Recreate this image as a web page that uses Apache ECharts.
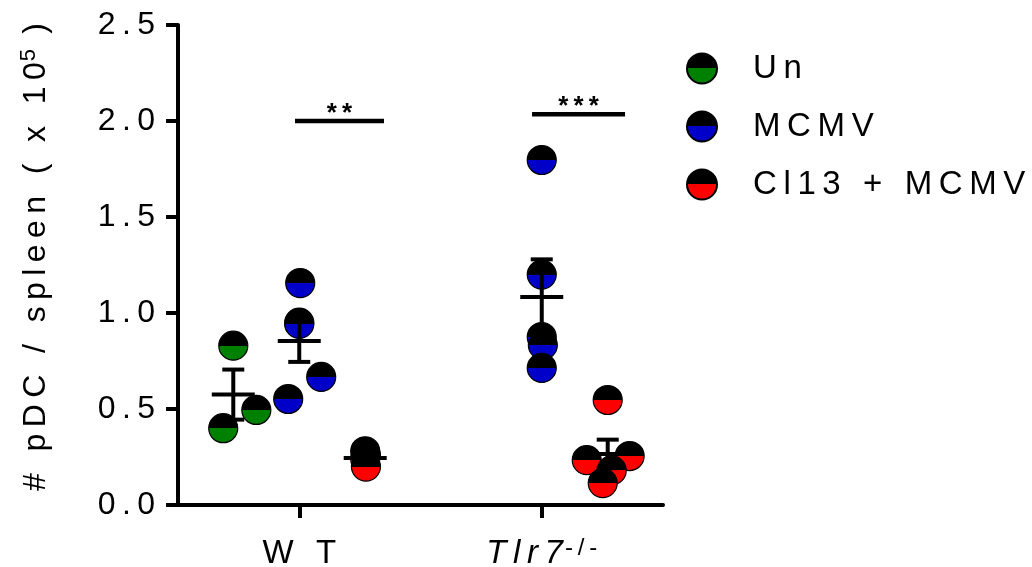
<!DOCTYPE html>
<html>
<head>
<meta charset="utf-8">
<script src="https://cdn.jsdelivr.net/npm/echarts@6/dist/echarts.min.js"></script>
<style>
html,body{margin:0;padding:0;background:#fff;}
#chart{width:1032px;height:567px;}
</style>
</head>
<body>
<div id="chart"></div>
<script>
// ---- data ----
const categories = ['WT', 'Tlr7'];
const groupNames = ['Un', 'MCMV', 'Cl13 + MCMV'];
const groupColors = ['#008000', '#0000c8', '#ff0000'];

// values (x 10^5 pDC per spleen)
const wtUn    = [0.83, 0.495, 0.40];
const wtMcmv  = [1.156, 0.95, 0.943, 0.667, 0.552];
const wtCl13  = [0.28, 0.26, 0.24, 0.20];
const koMcmv  = [1.797, 1.20, 0.875, 0.833, 0.714];
const koCl13  = [0.547, 0.234, 0.255, 0.18, 0.114];

// horizontal jitter of each point inside its column (x-axis units)
const wtUnJitter   = [0.0, 0.19, -0.083];
const wtMcmvJitter = [0.008, 0.0, 0.0, 0.181, -0.091];
const wtCl13Jitter = [0.0, 0.006, 0.0, 0.006];
const koMcmvJitter = [0.0, 0.0, 0.0, 0.009, 0.0];
const koCl13Jitter = [0.0, -0.173, 0.181, 0.033, -0.041];

// significance brackets
const sigStart  = [0.965, 2.92];
const sigEnd    = [1.699, 3.687];
const sigLevel  = [2.0, 2.035];
const sigLabels = ['**', '***'];

const yTicks = [0, 0.5, 1.0, 1.5, 2.0, 2.5];

// ---- helpers ----
const FONT = '"Liberation Sans", Arial, Helvetica, sans-serif';
const TS = '\u2009';
function spaced(s) { return s.split('').join(TS); }

const catCenter = [1, 3];          // category centres on the hidden value x axis (0..4)
const groupOffset = [-0.544, 0, 0.544];

const columns = [
  {cat: 0, grp: 0, vals: wtUn,   jit: wtUnJitter},
  {cat: 0, grp: 1, vals: wtMcmv, jit: wtMcmvJitter},
  {cat: 0, grp: 2, vals: wtCl13, jit: wtCl13Jitter},
  {cat: 1, grp: 1, vals: koMcmv, jit: koMcmvJitter},
  {cat: 1, grp: 2, vals: koCl13, jit: koCl13Jitter}
];

function colX(c) { return catCenter[c.cat] + groupOffset[c.grp]; }
function mean(a) { return a.reduce((s, v) => s + v, 0) / a.length; }
function sem(a) {
  const m = mean(a);
  const v = a.reduce((s, x) => s + (x - m) * (x - m), 0) / (a.length - 1);
  return Math.sqrt(v / a.length);
}

function halfFill(color) {
  return {
    type: 'linear', x: 0, y: 0, x2: 0, y2: 1,
    colorStops: [
      {offset: 0, color: '#000'}, {offset: 0.5, color: '#000'},
      {offset: 0.5, color: color}, {offset: 1, color: color}
    ]
  };
}

const scatterSeries = groupNames.map((name, g) => {
  const pts = [];
  columns.filter(c => c.grp === g).forEach(c => {
    c.vals.forEach((v, i) => pts.push([colX(c) + c.jit[i], v]));
  });
  return {
    name: name,
    type: 'scatter',
    xAxisIndex: 1,
    yAxisIndex: 0,
    symbol: 'circle',
    symbolSize: 29,
    itemStyle: {color: halfFill(groupColors[g]), borderColor: '#000', borderWidth: 1.2, opacity: 1},
    emphasis: {disabled: true},
    data: pts,
    z: 2
  };
});

const errData = columns.map(c => [colX(c), mean(c.vals), sem(c.vals)]);

const errSeries = {
  type: 'custom',
  xAxisIndex: 1, yAxisIndex: 0,
  z: 5, silent: true,
  encode: {x: 0, y: 1},
  data: errData,
  renderItem: function (params, api) {
    const x = api.value(0), m = api.value(1), s = api.value(2);
    const c = api.coord([x, m]);
    const t = api.coord([x, m + s]);
    const b = api.coord([x, m - s]);
    const st = {stroke: '#000', lineWidth: 4};
    return {
      type: 'group',
      children: [
        {type: 'line', shape: {x1: c[0], y1: t[1], x2: c[0], y2: b[1]}, style: st},
        {type: 'line', shape: {x1: c[0] - 11, y1: t[1], x2: c[0] + 11, y2: t[1]}, style: st},
        {type: 'line', shape: {x1: c[0] - 11, y1: b[1], x2: c[0] + 11, y2: b[1]}, style: st},
        {type: 'line', shape: {x1: c[0] - 21.5, y1: c[1], x2: c[0] + 21.5, y2: c[1]}, style: st}
      ]
    };
  }
};

const sigSeries = {
  type: 'custom',
  xAxisIndex: 1, yAxisIndex: 0,
  z: 5, silent: true,
  encode: {x: [0, 1], y: 2},
  data: sigStart.map((s, i) => [s, sigEnd[i], sigLevel[i], i]),
  renderItem: function (params, api) {
    const a = api.coord([api.value(0), api.value(2)]);
    const b = api.coord([api.value(1), api.value(2)]);
    const idx = api.value(3);
    return {
      type: 'group',
      children: [
        {type: 'line', shape: {x1: a[0], y1: a[1], x2: b[0], y2: b[1]}, style: {stroke: '#000', lineWidth: 4.5}},
        {type: 'text', x: (a[0] + b[0]) / 2, y: a[1] - 7,
         style: {text: spaced(sigLabels[idx]), font: 'bold 26px ' + FONT, fill: '#000', align: 'center', verticalAlign: 'middle'}}
      ]
    };
  }
};

const chart = echarts.init(document.getElementById('chart'), null, {renderer: 'canvas'});
chart.setOption({
  animation: false,
  backgroundColor: '#fff',
  textStyle: {fontFamily: FONT},
  grid: {left: 178, right: 369, top: 25, bottom: 62, containLabel: false, outerBoundsMode: 'none'},
  legend: {
    data: groupNames,
    orient: 'vertical',
    left: 681, top: 47,
    itemWidth: 30, itemHeight: 30, itemGap: 25,
    icon: 'circle',
    selectedMode: false,
    formatter: n => spaced(n),
    textStyle: {fontFamily: FONT, fontSize: 33, color: '#000', lineHeight: 30, padding: [0, 0, 0, 31]}
  },
  xAxis: [
    {
      type: 'category',
      data: categories,
      boundaryGap: true,
      axisLine: {show: true, lineStyle: {color: '#000', width: 4}},
      axisTick: {show: true, alignWithLabel: true, length: 13, lineStyle: {color: '#000', width: 4}},
      axisLabel: {
        margin: 31,
        color: '#000',
        formatter: v => v === 'WT' ? '{n|' + spaced('W T') + '}' : '{i|' + spaced('Tlr7') + '}{s|' + spaced('-/-') + '}',
        rich: {
          n: {fontFamily: FONT, fontSize: 33, color: '#000', lineHeight: 36},
          i: {fontFamily: FONT, fontSize: 33, fontStyle: 'italic', color: '#000', lineHeight: 36},
          s: {fontFamily: FONT, fontSize: 24, color: '#000', verticalAlign: 'top', lineHeight: 36, padding: [0, 0, 20, 2]}
        }
      },
      splitLine: {show: false}
    },
    {type: 'value', min: 0, max: 4, show: false}
  ],
  yAxis: {
    type: 'value',
    min: yTicks[0], max: yTicks[yTicks.length - 1], interval: 0.5,
    axisLine: {show: true, lineStyle: {color: '#000', width: 4}},
    axisTick: {show: true, length: 12, lineStyle: {color: '#000', width: 4}},
    axisLabel: {
      margin: 23, color: '#000', fontFamily: FONT, fontSize: 32,
      formatter: v => spaced(v.toFixed(1))
    },
    splitLine: {show: false},
    name: '{a|' + spaced('# pDC / spleen ( x 10') + '}{s|5}{a|' + spaced(' )') + '}',
    nameLocation: 'middle',
    nameRotate: 90,
    nameGap: 124,
    nameTextStyle: {
      padding: [0, 0, 0, 16],
      rich: {
        a: {fontFamily: FONT, fontSize: 32, color: '#000', lineHeight: 36},
        s: {fontFamily: FONT, fontSize: 22, color: '#000', verticalAlign: 'top', lineHeight: 36, padding: [0, 0, 16, 1]}
      }
    }
  },
  series: scatterSeries.concat([errSeries, sigSeries])
});
</script>
</body>
</html>
